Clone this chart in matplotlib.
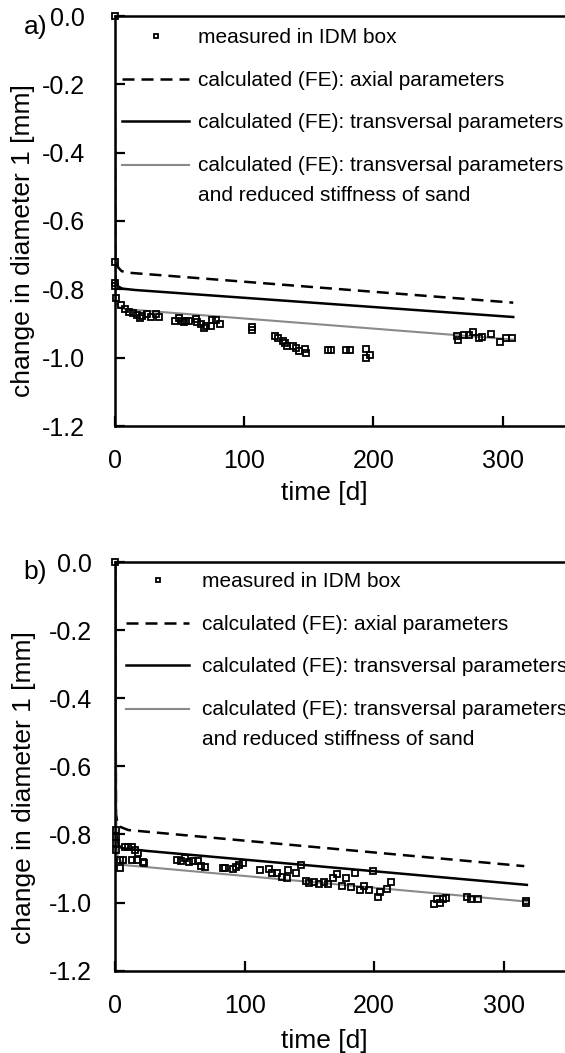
import numpy as np
import matplotlib
matplotlib.use('Agg')
import matplotlib.pyplot as plt

plt.rcParams['font.family'] = ['Liberation Sans', 'DejaVu Sans']
plt.rcParams['axes.unicode_minus'] = False

# ---------------- data: panel a ----------------
a_meas_t = [0, 0, 0, 0, 1, 4.7, 8.3, 11.1, 14.5, 17.3, 19.5, 21.2, 25.1, 28.4, 31.7, 34,
            47, 50.1, 52, 54, 55.5, 57.4, 63.2, 64, 66.8, 68.8, 71, 74.3, 75.1, 78, 81.3,
            106.4, 106.4, 123.6, 125.9, 130, 132, 133.5, 137.6, 140.4, 142.6, 146.8, 147.6,
            164.8, 167, 178.8, 181.5, 194.1, 194.1, 197.7,
            264.6, 265.2, 270, 273.5, 276.8, 281.3, 284, 290.7, 298, 302.7, 307.4]
a_meas_v = [0.0, -0.721, -0.782, -0.790, -0.824, -0.846, -0.859, -0.865, -0.870, -0.875, -0.885,
            -0.877, -0.873, -0.880, -0.873, -0.880, -0.892, -0.885, -0.893, -0.897, -0.894,
            -0.892, -0.887, -0.897, -0.900, -0.914, -0.907, -0.907, -0.890, -0.890, -0.901,
            -0.909, -0.919, -0.937, -0.941, -0.950, -0.958, -0.965, -0.967, -0.973, -0.980,
            -0.976, -0.987, -0.977, -0.977, -0.977, -0.977, -0.975, -1.0, -0.992,
            -0.937, -0.948, -0.934, -0.934, -0.924, -0.943, -0.940, -0.931, -0.953, -0.943, -0.943]
a_axial_t = [0, 0.5, 1.5, 3, 5.5, 13, 308]
a_axial_v = [0, -0.70, -0.725, -0.737, -0.747, -0.752, -0.839]
a_trans_t = [0, 0.5, 1.5, 3, 6, 16, 308]
a_trans_v = [0, -0.76, -0.782, -0.792, -0.798, -0.802, -0.881]
a_red_t = [0, 0.5, 1.5, 3, 8, 308]
a_red_v = [0, -0.80, -0.84, -0.852, -0.858, -0.947]

# ---------------- data: panel b ----------------
b_meas_t = [0, 0.3, 0.3, 0.3, 0.3, 3.6, 3.6, 6.2, 7.6, 10, 13, 15.2, 12.6, 16.5, 17.6, 21.6,
            22.4, 47.4, 50.8, 53.9, 57, 60.3, 64.2, 66.2, 69.3, 83.5, 84.7, 91.3, 93.2, 95.5,
            98.9, 112, 118.4, 121.1, 125.3, 129, 132.3, 133.7, 139.8, 143.4, 147.1, 149.9,
            153.2, 157.3, 161, 164.3, 167.9, 171.3, 175.4, 178.3, 182.4, 185.2, 188.8, 192.2,
            196.4, 199.1, 202.8, 204.7, 210.3, 213.1, 246.4, 248.4, 251.2, 253.4, 255.4,
            272.1, 275.1, 279.9, 317.5, 317.5]
b_meas_v = [0.0, -0.787, -0.806, -0.826, -0.846, -0.875, -0.897, -0.875, -0.836, -0.836,
            -0.836, -0.846, -0.875, -0.875, -0.853, -0.880, -0.883, -0.875, -0.878, -0.870,
            -0.880, -0.878, -0.878, -0.893, -0.896, -0.897, -0.899, -0.902, -0.895, -0.890,
            -0.885, -0.904, -0.902, -0.912, -0.914, -0.924, -0.929, -0.904, -0.912, -0.890,
            -0.936, -0.942, -0.939, -0.944, -0.939, -0.944, -0.929, -0.917, -0.951, -0.929,
            -0.953, -0.914, -0.963, -0.951, -0.963, -0.906, -0.983, -0.968, -0.961, -0.939,
            -1.004, -0.990, -1.0, -0.990, -0.987, -0.983, -0.990, -0.990, -1.0, -0.996]
b_axial_t = [0, 0.5, 2, 10, 316]
b_axial_v = [0, -0.74, -0.775, -0.787, -0.893]
b_trans_t = [0, 0.5, 2, 5, 23.5, 318]
b_trans_v = [0, -0.79, -0.83, -0.84, -0.848, -0.948]
b_red_t = [0, 0.5, 2, 7.5, 318]
b_red_v = [0, -0.82, -0.87, -0.89, -0.997]

# ---------------- labels ----------------
x_ticks = [0, 100, 200, 300]
x_tick_labels = ['0', '100', '200', '300']
y_ticks = [0.0, -0.2, -0.4, -0.6, -0.8, -1.0, -1.2]
y_tick_labels = ['0.0', '-0.2', '-0.4', '-0.6', '-0.8', '-1.0', '-1.2']
legend_labels = ['measured in IDM box',
                 'calculated (FE): axial parameters',
                 'calculated (FE): transversal parameters',
                 'calculated (FE): transversal parameters\nand reduced stiffness of sand']
xlabel = 'time [d]'
ylabel = 'change in diameter 1 [mm]'

W, H = 565, 1053
fig = plt.figure(figsize=(W / 100, H / 100), dpi=100)

GRAY = '#8a8a8a'


def make_panel(rect, meas_t, meas_v, ax_t, ax_v, tr_t, tr_v, rd_t, rd_v,
               ytick_pad, leg_anchor, hlen, htpad, ylab_xy, xlab_xy):
    ax = fig.add_axes(rect)
    h_ax, = ax.plot(ax_t, ax_v, color='black', lw=1.8, ls=(0, (4.8, 2.8)))
    h_tr, = ax.plot(tr_t, tr_v, color='black', lw=1.8)
    h_rd, = ax.plot(rd_t, rd_v, color=GRAY, lw=1.5)
    h_m, = ax.plot(meas_t, meas_v, ls='none', marker='s', ms=4.7, mfc='none',
                   mec='black', mew=1.3, zorder=4, clip_on=False)
    ax.set_xlim(0, 350)
    ax.set_ylim(-1.2, 0)
    ax.set_xticks(x_ticks)
    ax.set_xticklabels(x_tick_labels)
    ax.set_yticks(y_ticks)
    ax.set_yticklabels(y_tick_labels)
    ax.spines['right'].set_visible(False)
    for s in ['top', 'left', 'bottom']:
        ax.spines[s].set_linewidth(1.8)
    ax.tick_params(axis='both', direction='in', length=7, width=1.6, labelsize=18)
    ax.tick_params(axis='y', pad=ytick_pad)
    ax.tick_params(axis='x', pad=16.5)
    ax.set_xlabel(xlabel, fontsize=19)
    ax.set_ylabel(ylabel, fontsize=19)
    ax.yaxis.set_label_coords(*ylab_xy)
    ax.xaxis.set_label_coords(*xlab_xy)
    leg = ax.legend([h_m, h_ax, h_tr, h_rd], legend_labels, loc='upper left',
                    bbox_to_anchor=leg_anchor, frameon=False, fontsize=15,
                    handlelength=hlen, handletextpad=htpad, labelspacing=1.13,
                    borderpad=0, borderaxespad=0, numpoints=1, markerscale=0.7)
    leg.get_texts()[3].set_linespacing(1.75)
    hl = leg.legend_handles[3]
    hl.set_ydata(np.asarray(hl.get_ydata()) + 11.3)
    return ax


ax_a = make_panel([114.6 / W, (H - 426) / H, 453 / W, 410 / H],
                  a_meas_t, a_meas_v, a_axial_t, a_axial_v, a_trans_t, a_trans_v,
                  a_red_t, a_red_v, 21.5, (0.0159, 0.970), 3.24, 0.4,
                  (-0.176, 0.452), (0.462, -0.134))
ax_b = make_panel([115.3 / W, (H - 970.7) / H, 453 / W, 408.7 / H],
                  b_meas_t, b_meas_v, b_axial_t, b_axial_v, b_trans_t, b_trans_v,
                  b_red_t, b_red_v, 16.8, (0.0238, 0.9748), 3.03, 0.6,
                  (-0.175, 0.447), (0.462, -0.143))

fig.text(23.4 / W, (H - 34) / H, 'a)', fontsize=19, ha='left', va='baseline')
fig.text(23.4 / W, (H - 579) / H, 'b)', fontsize=19, ha='left', va='baseline')

fig.savefig('out.png', dpi=100)
